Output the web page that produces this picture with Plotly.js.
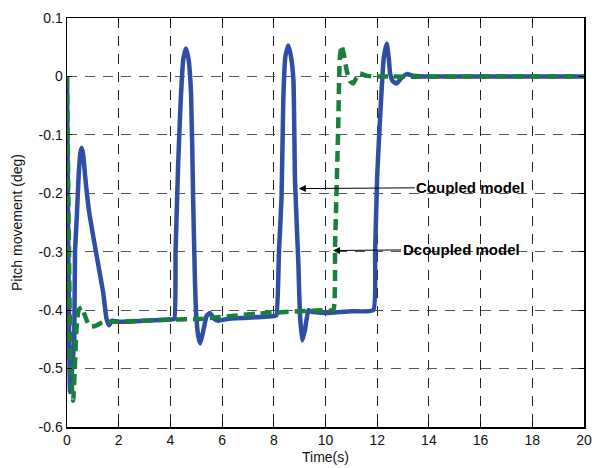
<!DOCTYPE html>
<html>
<head>
<meta charset="utf-8">
<script src="https://cdn.plot.ly/plotly-3.0.1.min.js"></script>
<style>html,body{margin:0;padding:0;background:#fff;}#chart{width:592px;height:468px;}</style>
</head>
<body>
<div id="chart"></div>
<script>
// Coupled model (blue solid)
var coupledT = [0, 0.05, 0.12, 0.2, 0.28, 0.31, 0.38, 0.45, 0.52, 0.57, 0.63, 0.7, 0.85, 1.0, 1.2, 1.4, 1.53, 1.63, 1.75, 2.0, 3.0, 4.0, 4.15, 4.2, 4.3, 4.4, 4.5, 4.6, 4.7, 4.8, 4.88, 4.95, 5.0, 5.08, 5.15, 5.25, 5.4, 5.53, 5.7, 5.85, 6.2, 7.0, 8.0, 8.1, 8.2, 8.3, 8.37, 8.45, 8.56, 8.66, 8.76, 8.82, 8.95, 9.01, 9.1, 9.2, 9.34, 9.47, 10, 11, 11.85, 11.92, 12.0, 12.1, 12.25, 12.37, 12.45, 12.5, 12.6, 12.75, 12.95, 13.14, 13.4, 13.8, 20];
var coupledY = [0, -0.3, -0.54, -0.5, -0.45, -0.3, -0.24, -0.17, -0.13, -0.122, -0.135, -0.17, -0.23, -0.27, -0.32, -0.37, -0.415, -0.426, -0.418, -0.42, -0.418, -0.416, -0.415, -0.3, -0.15, -0.04, 0.03, 0.048, 0.03, -0.03, -0.21, -0.35, -0.41, -0.445, -0.457, -0.44, -0.41, -0.405, -0.415, -0.418, -0.415, -0.413, -0.41, -0.409, -0.3, -0.207, -0.035, 0.035, 0.053, 0.035, -0.007, -0.178, -0.32, -0.406, -0.452, -0.435, -0.4, -0.403, -0.405, -0.402, -0.4, -0.3, -0.17, -0.08, 0.03, 0.056, 0.03, 0.005, -0.008, -0.012, -0.002, 0.004, 0.001, 0, 0];
// Decoupled model (green dashed)
var decoupledT = [0, 0.05, 0.12, 0.2, 0.24, 0.3, 0.37, 0.45, 0.57, 0.7, 0.82, 0.95, 1.15, 1.4, 2, 4, 5.15, 7.35, 9.9, 10.3, 10.37, 10.49, 10.55, 10.62, 10.7, 10.82, 10.95, 11.07, 11.2, 11.33, 11.6, 11.8, 20];
var decoupledY = [0, -0.2, -0.45, -0.54, -0.555, -0.5, -0.43, -0.4, -0.395, -0.41, -0.423, -0.428, -0.426, -0.42, -0.42, -0.416, -0.415, -0.406, -0.4, -0.4, -0.29, -0.09, 0.03, 0.053, 0.04, 0.01, -0.008, -0.012, -0.002, 0.005, 0.001, 0, 0];

var xTicks = [0, 2, 4, 6, 8, 10, 12, 14, 16, 18, 20];
var yTicks = [0.1, 0, -0.1, -0.2, -0.3, -0.4, -0.5, -0.6];
var yTickText = ['0.1', '0', '-0.1', '-0.2', '-0.3', '-0.4', '-0.5', '-0.6'];

var font = 'Liberation Sans, Arial, sans-serif';

var traces = [
  {x: coupledT, y: coupledY, mode: 'lines', name: 'Coupled model',
   line: {color: '#2f4fa4', width: 4.5, shape: 'spline', smoothing: 0.4}},
  {x: decoupledT, y: decoupledY, mode: 'lines', name: 'Dcoupled model',
   line: {color: '#17803d', width: 4.5, dash: '11px,6px', shape: 'spline', smoothing: 0.4}}
];

var layout = {
  width: 592, height: 468,
  margin: {l: 67, r: 8, t: 18, b: 41},
  paper_bgcolor: '#fff', plot_bgcolor: '#fff',
  showlegend: false,
  font: {family: font, size: 13, color: '#111'},
  xaxis: {
    range: [0, 20], tickvals: xTicks, ticktext: xTicks.map(String),
    showgrid: true, gridcolor: '#222', griddash: '10px,8px', gridwidth: 1,
    zeroline: false, showline: true, linecolor: '#000', linewidth: 1.5, mirror: 'ticks',
    ticks: 'inside', ticklen: 5, tickcolor: '#000',
    tickfont: {family: font, size: 14, color: '#111'},
    title: {text: 'Time(s)', font: {family: font, size: 14, color: '#111'}, standoff: 5}
  },
  yaxis: {
    range: [-0.6, 0.1], tickvals: yTicks, ticktext: yTickText,
    showgrid: true, gridcolor: '#555', griddash: '10px,8px', gridwidth: 1,
    zeroline: false, showline: true, linecolor: '#000', linewidth: 1.5, mirror: 'ticks',
    ticks: 'inside', ticklen: 5, tickcolor: '#000',
    tickfont: {family: font, size: 14, color: '#111'},
    title: {text: 'Pitch movement (deg)', font: {family: font, size: 14, color: '#111'}, standoff: 12}
  },
  annotations: [
    {x: 8.97, y: -0.192, ax: 15.6, ay: -0.19, axref: 'x', ayref: 'y', xref: 'x', yref: 'y',
     text: '<b>Coupled model</b>', showarrow: true, arrowhead: 2, arrowsize: 1.4, arrowwidth: 1,
     arrowcolor: '#000', standoff: 0, font: {family: font, size: 15, color: '#000'}},
    {x: 10.29, y: -0.298, ax: 15.25, ay: -0.296, axref: 'x', ayref: 'y', xref: 'x', yref: 'y',
     text: '<b>Dcoupled model</b>', showarrow: true, arrowhead: 2, arrowsize: 1.4, arrowwidth: 1,
     arrowcolor: '#000', standoff: 0, font: {family: font, size: 15, color: '#000'}}
  ]
};

Plotly.newPlot('chart', traces, layout, {displayModeBar: false, staticPlot: true});
</script>
</body>
</html>
